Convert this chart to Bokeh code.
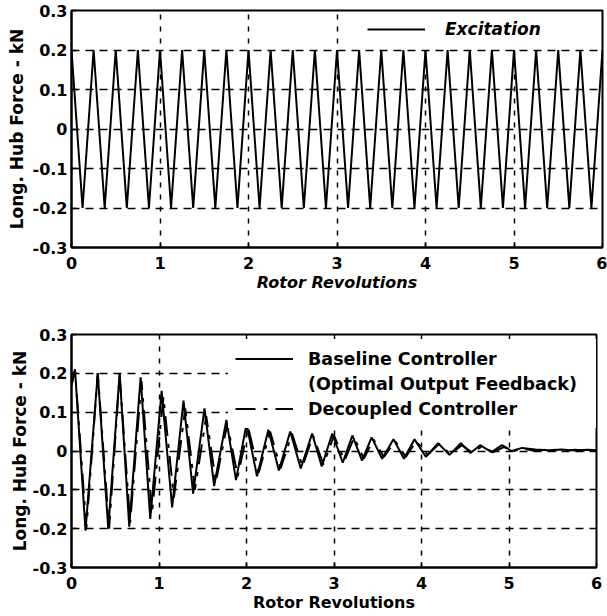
from bokeh.plotting import figure
from bokeh.layouts import column
from bokeh.models import FixedTicker, Legend, LegendItem, Range1d
from bokeh.embed import file_html
from bokeh.resources import INLINE

# ---------------- data ----------------
x_ticks = [0, 1, 2, 3, 4, 5, 6]
y_ticks = [-0.3, -0.2, -0.1, 0.0, 0.1, 0.2, 0.3]
y_tick_labels = ["-0.3", "-0.2", "-0.1", "0", "0.1", "0.2", "0.3"]

exc_t = [0.0, 0.125, 0.25, 0.375, 0.5, 0.625, 0.75, 0.875, 1.0, 1.125, 1.25, 1.375,
         1.5, 1.625, 1.75, 1.875, 2.0, 2.125, 2.25, 2.375, 2.5, 2.625, 2.75, 2.875,
         3.0, 3.125, 3.25, 3.375, 3.5, 3.625, 3.75, 3.875, 4.0, 4.125, 4.25, 4.375,
         4.5, 4.625, 4.75, 4.875, 5.0, 5.125, 5.25, 5.375, 5.5, 5.625, 5.75, 5.875, 6.0]
exc_f = [0.2, -0.2, 0.2, -0.2, 0.2, -0.2, 0.2, -0.2, 0.2, -0.2, 0.2, -0.2,
         0.2, -0.2, 0.2, -0.2, 0.2, -0.2, 0.2, -0.2, 0.2, -0.2, 0.2, -0.2,
         0.2, -0.2, 0.2, -0.2, 0.2, -0.2, 0.2, -0.2, 0.2, -0.2, 0.2, -0.2,
         0.2, -0.2, 0.2, -0.2, 0.2, -0.2, 0.2, -0.2, 0.2, -0.2, 0.2, -0.2, 0.2]

base_t = [0.0, 0.04, 0.16, 0.30, 0.42, 0.55, 0.66, 0.79, 0.90, 1.03, 1.15, 1.28,
          1.39, 1.52, 1.63, 1.77, 1.88, 2.00, 2.12, 2.25, 2.37, 2.50, 2.62, 2.75,
          2.86, 2.98, 3.10, 3.21, 3.32, 3.43, 3.55, 3.68, 3.80, 3.92, 4.05, 4.19,
          4.32, 4.45, 4.56, 4.67, 4.80, 4.92, 5.03, 5.15, 5.30, 5.45, 5.60, 5.75,
          5.90, 6.00]
base_f = [0.17, 0.21, -0.205, 0.20, -0.20, 0.20, -0.195, 0.19, -0.175, 0.155, -0.145, 0.13,
          -0.11, 0.11, -0.09, 0.08, -0.075, 0.07, -0.065, 0.055, -0.05, 0.05, -0.045, 0.045,
          -0.04, 0.045, -0.03, 0.04, -0.025, 0.035, -0.02, 0.03, -0.02, 0.03, -0.015, 0.02,
          -0.01, 0.02, -0.005, 0.015, -0.003, 0.015, 0.0, 0.008, 0.004, 0.002, 0.004, 0.001,
          0.003, 0.002]

dec_t = [0.0, 0.04, 0.17, 0.30, 0.43, 0.55, 0.67, 0.80, 0.92, 1.05, 1.17, 1.30,
         1.41, 1.54, 1.65, 1.78, 1.90, 2.02, 2.14, 2.27, 2.39, 2.52, 2.64, 2.76,
         2.88, 3.00, 3.12, 3.23, 3.34, 3.45, 3.57, 3.70, 3.82, 3.94, 4.07, 4.20,
         4.33, 4.46, 4.58, 4.69, 4.82, 4.94, 5.05, 5.17, 5.30, 5.45, 5.60, 5.75,
         5.90, 6.00]
dec_f = [0.17, 0.21, -0.20, 0.20, -0.20, 0.195, -0.185, 0.18, -0.16, 0.14, -0.12, 0.11,
         -0.10, 0.09, -0.08, 0.07, -0.065, 0.06, -0.055, 0.05, -0.045, 0.045, -0.04, 0.04,
         -0.035, 0.04, -0.025, 0.035, -0.02, 0.03, -0.015, 0.025, -0.015, 0.025, -0.01, 0.018,
         -0.008, 0.015, -0.004, 0.012, -0.003, 0.01, 0.0, 0.006, 0.0, 0.004, 0.0, 0.003,
         0.001, 0.003]

FONT = "DejaVu Sans"


def make_fig(fw, fh, left, right, top, bottom, xlabel_style, ylabel_standoff):
    p = figure(frame_width=fw, frame_height=fh,
               x_range=Range1d(0, 6), y_range=Range1d(-0.3, 0.3),
               output_backend="svg", toolbar_location=None,
               min_border_left=left, min_border_right=right,
               min_border_top=top, min_border_bottom=bottom,
               background_fill_color="white", border_fill_color="white")
    p.outline_line_color = "black"
    p.outline_line_width = 2
    p.outline_line_alpha = 1

    p.xaxis.ticker = FixedTicker(ticks=x_ticks)
    p.yaxis.ticker = FixedTicker(ticks=y_ticks)
    p.yaxis.major_label_overrides = {t: l for t, l in zip(y_ticks, y_tick_labels)}
    for ax in (p.xaxis[0], p.yaxis[0]):
        ax.axis_line_width = 2
        ax.axis_line_color = "black"
        ax.major_tick_in = 5
        ax.major_tick_out = 0
        ax.minor_tick_line_color = None
        ax.major_tick_line_width = 1.5
        ax.major_label_text_font = FONT
        ax.major_label_text_font_style = "bold"
        ax.major_label_text_font_size = "16px"
        ax.major_label_text_color = "black"
        ax.axis_label_text_font = FONT
        ax.axis_label_text_color = "black"
    p.xaxis.major_label_standoff = 9
    p.yaxis.major_label_standoff = 4
    p.xaxis.axis_label = "Rotor Revolutions"
    p.xaxis.axis_label_text_font_style = xlabel_style
    p.xaxis.axis_label_text_font_size = "16px"
    p.xaxis.axis_label_standoff = 1
    p.yaxis.axis_label = "Long. Hub Force - kN"
    p.yaxis.axis_label_text_font_style = "bold"
    p.yaxis.axis_label_text_font_size = "17px"
    p.yaxis.axis_label_standoff = ylabel_standoff

    p.xgrid.ticker = FixedTicker(ticks=[1, 2, 3, 4, 5])
    p.ygrid.ticker = FixedTicker(ticks=[-0.2, -0.1, 0.0, 0.1, 0.2])
    p.xgrid.grid_line_color = "black"
    p.xgrid.grid_line_dash = "5 7"
    p.xgrid.grid_line_width = 1.5
    p.ygrid.grid_line_color = "black"
    p.ygrid.grid_line_dash = "8 6"
    p.ygrid.grid_line_width = 1.5
    return p


# ---------------- top: excitation ----------------
p1 = make_fig(531, 237, 71, 5, 10, 53, "bold italic", 3)
r_exc = p1.line(exc_t, exc_f, line_color="black", line_width=2)
leg1 = Legend(items=[LegendItem(label="Excitation", renderers=[r_exc])],
              location=(291, 202), padding=5, margin=0, spacing=0,
              glyph_width=58, glyph_height=22, label_height=22, label_standoff=20,
              label_width=120,
              label_text_font=FONT, label_text_font_size="17px",
              label_text_font_style="bold italic", label_text_color="black",
              background_fill_color="white", background_fill_alpha=1,
              border_line_alpha=0)
p1.add_layout(leg1)

# ---------------- bottom: controllers ----------------
p2 = make_fig(525, 233, 70, 12, 34, 49, "bold", 0)
r_base = p2.line(base_t, base_f, line_color="black", line_width=2)
r_dec = p2.line(dec_t, dec_f, line_color="black", line_width=2, line_dash="20 8 4 8")
r_blank = p2.line([0, 0], [0, 0], line_alpha=0)
leg2 = Legend(items=[LegendItem(label="Baseline Controller", renderers=[r_base]),
                     LegendItem(label="(Optimal Output Feedback)", renderers=[r_blank]),
                     LegendItem(label="Decoupled Controller", renderers=[r_dec])],
              location=(157, 139), padding=7, margin=0, spacing=0,
              glyph_width=58, glyph_height=25, label_height=25, label_standoff=15,
              label_width=283,
              label_text_font=FONT, label_text_font_size="17.5px",
              label_text_font_style="bold", label_text_color="black",
              background_fill_color="white", background_fill_alpha=1,
              border_line_alpha=0)
p2.add_layout(leg2)

layout = column(p1, p2, spacing=0)
open("out.html", "w").write(file_html(layout, INLINE))
